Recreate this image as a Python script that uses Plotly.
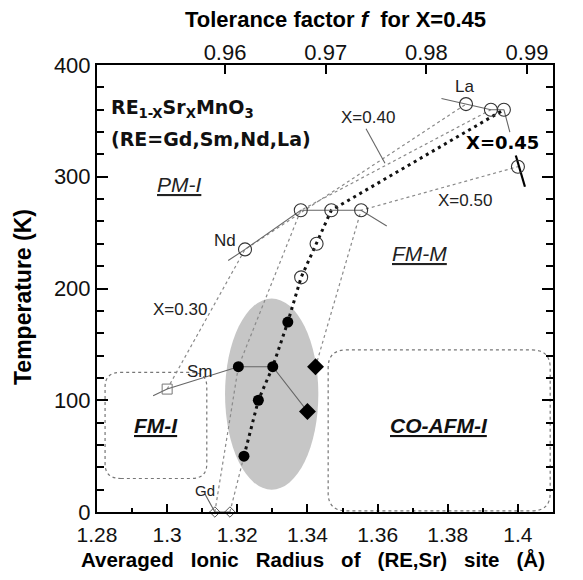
import plotly.graph_objects as go

# ---------------- data ----------------
# constant-X series (dotted lines): average ionic radius (Å), temperature (K)
x030_r = [1.3000, 1.3222, 1.3852]
x030_t = [110, 235, 365]
x040_r = [1.3136, 1.3203, 1.3381, 1.3923]
x040_t = [0, 130, 270, 360]
x045_r = [1.3219, 1.3260, 1.3301, 1.3344, 1.3382, 1.3426, 1.3468, 1.3960]
x045_t = [50, 100, 130, 170, 210, 240, 270, 360]
x045_gd_r = [1.3179, 1.3219]
x045_gd_t = [0, 50]
x050_r = [1.3423, 1.3553, 1.4000]
x050_t = [130, 270, 309]

# constant-RE series (thin solid lines)
la_r = [1.3782, 1.3852, 1.3923, 1.3960]
la_t = [370, 365, 360, 360]
nd_r = [1.3174, 1.3222, 1.3381, 1.3468, 1.3553, 1.3626]
nd_t = [225, 235, 270, 270, 270, 256]
sm_r = [1.2960, 1.3000, 1.3203, 1.3301, 1.3400]
sm_t = [104, 110, 130, 130, 90]
gd_r = [1.3108, 1.3136, 1.3179]
gd_t = [16, 0, 0]

# markers
open_r = [1.3852, 1.3923, 1.3960, 1.4000, 1.3222, 1.3381, 1.3468, 1.3553, 1.3426, 1.3382]
open_t = [365, 360, 360, 309, 235, 270, 270, 270, 240, 210]
filled_r = [1.3203, 1.3301, 1.3344, 1.3260, 1.3219]
filled_t = [130, 130, 170, 100, 50]
diam_r = [1.3423, 1.3400]
diam_t = [130, 90]
square_r = [1.3000]
square_t = [110]
gd_pts_r = [1.3136, 1.3179]
gd_pts_t = [0, 0]

# leaders / marks
lead045_r = [1.3960, 1.3977]
lead045_t = [360, 340]
lead040_r = [1.3567, 1.3621]
lead040_t = [343, 312]
mark050_r = [1.3994, 1.4020]
mark050_t = [319, 291]

# tick labels
x_ticks = [1.28, 1.30, 1.32, 1.34, 1.36, 1.38, 1.40]
x_ticktext = ["1.28", "1.3", "1.32", "1.34", "1.36", "1.38", "1.4"]
y_ticks = [0, 100, 200, 300, 400]
f_ticks = [0.96, 0.97, 0.98, 0.99]
f_ticktext = ["0.96", "0.97", "0.98", "0.99"]
f_range = [0.94728, 0.99258]

# regions
ellipse = dict(x0=1.3165, x1=1.3431, y0=20, y1=191)
fmi_box = dict(x0=1.2823, x1=1.3113, y0=30, y1=125)
afm_box = dict(x0=1.3459, x1=1.4092, y0=1, y1=145)

FONT = "Liberation Sans, Arial, sans-serif"
fig = go.Figure()

def dotted(r, t, color="#8a8a8a", width=1.2, dash="dot"):
    fig.add_trace(go.Scatter(x=r, y=t, mode="lines", line=dict(color=color, width=width, dash=dash),
                             hoverinfo="skip", showlegend=False))

def solid(r, t, color="#666666", width=1.1):
    fig.add_trace(go.Scatter(x=r, y=t, mode="lines", line=dict(color=color, width=width),
                             hoverinfo="skip", showlegend=False))

dotted(x030_r, x030_t)
dotted(x040_r, x040_t)
dotted(x045_gd_r, x045_gd_t)
dotted(x050_r, x050_t)
dotted(x045_r, x045_t, color="#111111", width=3, dash="3px,4px")

solid(la_r, la_t)
solid(nd_r, nd_t)
solid(sm_r, sm_t)
solid(gd_r, gd_t)
solid(lead045_r, lead045_t)
solid(lead040_r, lead040_t)
solid(mark050_r, mark050_t, color="#000000", width=2.2)

fig.add_trace(go.Scatter(x=open_r, y=open_t, mode="markers",
                         marker=dict(symbol="circle-open", size=13, color="#333333", line=dict(width=1.1)),
                         showlegend=False, hoverinfo="skip"))
fig.add_trace(go.Scatter(x=filled_r, y=filled_t, mode="markers",
                         marker=dict(symbol="circle", size=11, color="#000000"),
                         showlegend=False, hoverinfo="skip"))
fig.add_trace(go.Scatter(x=diam_r, y=diam_t, mode="markers",
                         marker=dict(symbol="diamond", size=13, color="#000000"),
                         showlegend=False, hoverinfo="skip"))
fig.add_trace(go.Scatter(x=square_r, y=square_t, mode="markers",
                         marker=dict(symbol="square-open", size=10, color="#777777", line=dict(width=1)),
                         showlegend=False, hoverinfo="skip"))
fig.add_trace(go.Scatter(x=gd_pts_r, y=gd_pts_t, mode="markers",
                         marker=dict(symbol="diamond-open", size=8, color="#555555", line=dict(width=1)),
                         showlegend=False, hoverinfo="skip", cliponaxis=False))

# dummy trace for top axis
fig.add_trace(go.Scatter(x=f_range, y=[None, None], xaxis="x2", mode="lines", showlegend=False, hoverinfo="skip"))

def rounded_box(b, rx=0.0045, ry=13):
    x0, x1, y0, y1 = b["x0"], b["x1"], b["y0"], b["y1"]
    return (f"M {x0+rx},{y0} L {x1-rx},{y0} Q {x1},{y0} {x1},{y0+ry} L {x1},{y1-ry} "
            f"Q {x1},{y1} {x1-rx},{y1} L {x0+rx},{y1} Q {x0},{y1} {x0},{y1-ry} "
            f"L {x0},{y0+ry} Q {x0},{y0} {x0+rx},{y0} Z")

shapes = [
    dict(type="circle", xref="x", yref="y", **ellipse, fillcolor="#c6c6c6", line=dict(width=0), layer="below"),
    dict(type="path", xref="x", yref="y", path=rounded_box(fmi_box),
         line=dict(color="#777777", width=1.2, dash="dot"), layer="below"),
    dict(type="path", xref="x", yref="y", path=rounded_box(afm_box, rx=0.0052, ry=16),
         line=dict(color="#777777", width=1.2, dash="dot"), layer="below"),
]

lab = dict(family=FONT, size=17, color="#222222")
C = dict(xanchor="center", yanchor="middle", showarrow=False)
SP = "&nbsp;&nbsp; "
annotations = [
    dict(x=0.026, y=0.9016, xref="paper", yref="paper", xanchor="left", yanchor="middle",
         text="<b>RE<sub>1-X</sub>Sr<sub>X</sub>MnO<sub>3</sub></b>", showarrow=False,
         font=dict(family="DejaVu Sans, sans-serif", size=19, color="#111")),
    dict(x=0.026, y=0.834, xref="paper", yref="paper", xanchor="left", yanchor="middle",
         text="<b>(RE=Gd,Sm,Nd,La)</b>", showarrow=False,
         font=dict(family="DejaVu Sans, sans-serif", size=19, color="#111")),
    dict(x=1.3034, y=293, text="<i><u>PM-I</u></i>", font=dict(family=FONT, size=21, color="#222"), **C),
    dict(x=1.3720, y=231, text="<i><u>FM-M</u></i>", font=dict(family=FONT, size=21, color="#222"), **C),
    dict(x=1.2968, y=77, text="<b><i><u>FM-I</u></i></b>", font=dict(family=FONT, size=21, color="#111"), **C),
    dict(x=1.3775, y=77, text="<b><i><u>CO-AFM-I</u></i></b>", font=dict(family=FONT, size=21, color="#111"), **C),
    dict(x=1.3849, y=381, text="La", font=lab, **C),
    dict(x=1.3165, y=243, text="Nd", font=lab, **C),
    dict(x=1.3094, y=125.6, text="Sm", font=lab, **C),
    dict(x=1.3108, y=19, text="Gd", font=dict(family=FONT, size=15, color="#222"), **C),
    dict(x=1.3573, y=353, text="X=0.40", font=lab, **C),
    dict(x=1.3849, y=279, text="X=0.50", font=lab, **C),
    dict(x=1.3038, y=181.6, text="X=0.30", font=lab, **C),
    dict(x=1.3955, y=331, text="<b>X=0.45</b>",
         font=dict(family="DejaVu Sans, sans-serif", size=18, color="#000"), **C),
    dict(x=0.524, y=1.1029, xref="paper", yref="paper", text="<b>Tolerance factor <i>f</i>  for X=0.45</b>",
         font=dict(family=FONT, size=22, color="#000"), **C),
    dict(x=0.474, y=-0.106, xref="paper", yref="paper",
         text="<b>Averaged" + SP + "Ionic" + SP + "Radius" + SP + "of" + SP + "(RE,Sr)" + SP + "site" + SP + "(Å)</b>",
         font=dict(family=FONT, size=20.5, color="#000"), **C),
    dict(x=-0.1623, y=0.481, xref="paper", yref="paper", text="<b>Temperature (K)</b>", textangle=-90,
         font=dict(family=FONT, size=23, color="#000"), **C),
]

# page body has an 8px default margin: plot area placed at x 97..553, y 65..511 of the window
fig.update_layout(
    width=567, height=564,
    margin=dict(l=89, r=22, t=57, b=60),
    paper_bgcolor="white", plot_bgcolor="white",
    showlegend=False,
    shapes=shapes, annotations=annotations,
    xaxis=dict(range=[1.28, 1.41], tickvals=x_ticks, ticktext=x_ticktext, ticks="inside", ticklen=8,
               tickwidth=1.5, tickcolor="#000", showline=True, linecolor="#000", linewidth=2, mirror=True,
               showgrid=False, zeroline=False, tickfont=dict(family=FONT, size=21, color="#111"),
               ticklabelstandoff=3,
               minor=dict(dtick=0.01, tick0=1.28, ticks="inside", ticklen=4, tickwidth=1.5, tickcolor="#000")),
    xaxis2=dict(range=f_range, overlaying="x", side="top", anchor="y", tickvals=f_ticks, ticktext=f_ticktext,
                ticks="inside", ticklen=9, tickwidth=1.5, tickcolor="#000", showline=False, showgrid=False,
                zeroline=False, tickfont=dict(family=FONT, size=22, color="#111")),
    yaxis=dict(range=[0, 400], tickvals=y_ticks, ticks="inside", ticklen=11, tickwidth=1.5, tickcolor="#000",
               showline=True, linecolor="#000", linewidth=2, mirror="ticks", showgrid=False, zeroline=False,
               tickfont=dict(family=FONT, size=22, color="#111"),
               minor=dict(dtick=20, tick0=0, ticks="inside", ticklen=7, tickwidth=1.5, tickcolor="#000")),
)

fig.write_html("out.html")
